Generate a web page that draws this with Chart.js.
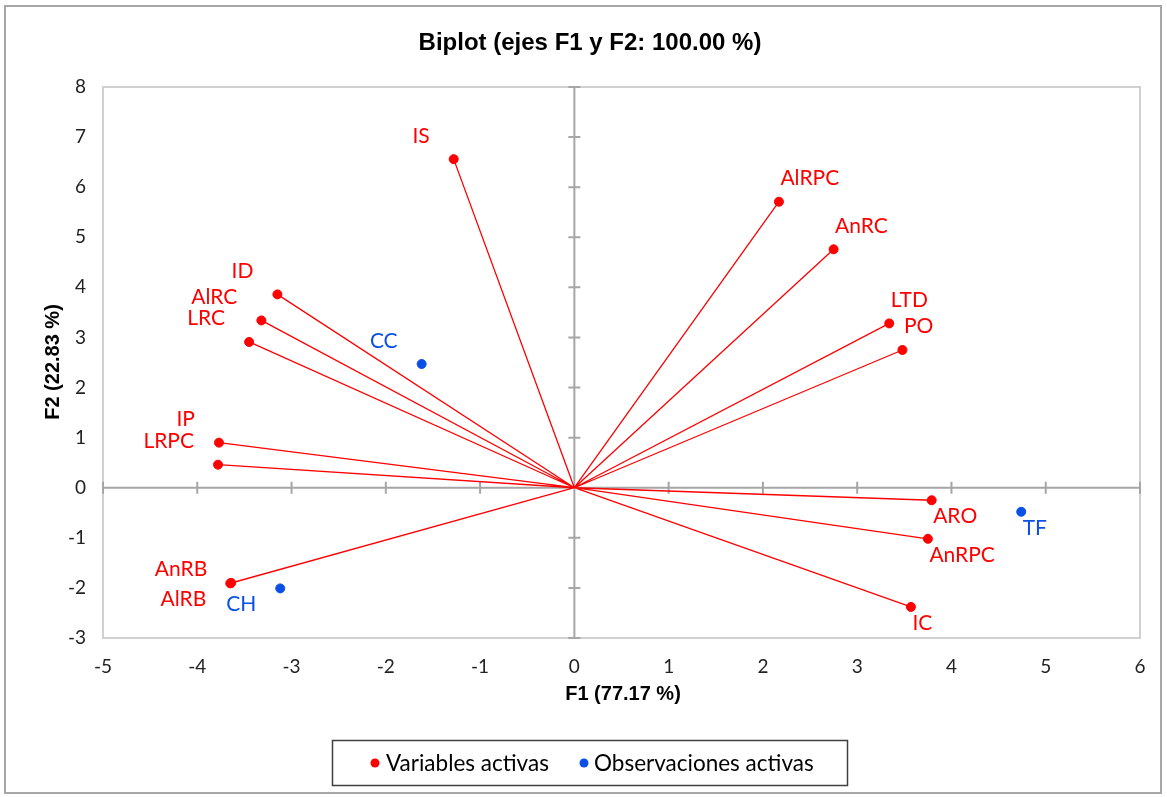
<!DOCTYPE html>
<html>
<head>
<meta charset="utf-8">
<title>Biplot (ejes F1 y F2)</title>
<script src="https://cdn.jsdelivr.net/npm/chart.js@4.4.1/dist/chart.umd.min.js"></script>
<style>
  body { margin: 0; background: #fff; }
</style>
</head>
<body>
<canvas id="biplot" width="1167" height="797"></canvas>
<script>
// variables activas (puntos rojos + rayos desde el origen)
var varNombres = ['IS', 'AlRPC', 'AnRC', 'LTD', 'PO', 'ID', 'AlRC', 'LRC', 'IP', 'LRPC', 'AlRB', 'AnRB', 'ARO', 'AnRPC', 'IC'];
var varF1 = [-1.28, 2.17, 2.75, 3.34, 3.48, -3.15, -3.32, -3.45, -3.77, -3.78, -3.65, -3.64, 3.79, 3.75, 3.57];
var varF2 = [6.56, 5.71, 4.76, 3.28, 2.75, 3.86, 3.34, 2.91, 0.90, 0.46, -1.91, -1.90, -0.25, -1.02, -2.38];

// observaciones activas (puntos azules)
var obsNombres = ['CC', 'TF', 'CH'];
var obsF1 = [-1.62, 4.74, -3.12];
var obsF2 = [2.47, -0.48, -2.01];

// marcas de los ejes
var ticksF1 = [-5, -4, -3, -2, -1, 0, 1, 2, 3, 4, 5, 6];
var ticksF2 = [-3, -2, -1, 0, 1, 2, 3, 4, 5, 6, 7, 8];

var ROJO = '#ff0000';
var AZUL = '#0a50e6';
var fuenteTexto = 'Lato';

var puntosVar = varF1.map(function (x, i) { return { x: x, y: varF2[i] }; });
var puntosObs = obsF1.map(function (x, i) { return { x: x, y: obsF2[i] }; });
// origen -> variable -> origen -> variable ...
var rayos = [];
puntosVar.forEach(function (p) {
    rayos.push({ x: 0, y: 0 });
    rayos.push(p);
});
rayos.push({ x: 0, y: 0 });

var cajas = [];
function choca(c) {
    for (var i = 0; i < cajas.length; i++) {
        var b = cajas[i];
        if (c.x < b.x + b.w && c.x + c.w > b.x && c.y < b.y + b.h && c.y + c.h > b.y) return true;
    }
    return false;
}

function etiqueta(ctx, texto, px, py, vx, vy) {
    var w = ctx.measureText(texto).width;
    var x0 = vx < 0 ? px - 24 - w : px + 1.5;
    var cy = vy > 0 ? py - 24 : py + 15.5;
    var caja = { x: x0, y: cy - 8, w: w, h: 16 };
    if (choca(caja)) {
        cy = vy > 0 ? py + 15.5 : py - 14;
        caja.y = cy - 8;
    }
    cajas.push(caja);
    ctx.fillText(texto, x0, cy + 7.5);
}

var decoracion = {
    id: 'decoracion',
    beforeDraw: function (chart) {
        var ctx = chart.ctx;
        ctx.save();
        ctx.fillStyle = '#fff';
        ctx.fillRect(0, 0, chart.width, chart.height);
        ctx.strokeStyle = '#a6a6a6';
        ctx.lineWidth = 2;
        ctx.strokeRect(5, 6, 1156, 787);
        ctx.restore();
    },
    beforeDatasetsDraw: function (chart) {
        var ctx = chart.ctx, a = chart.chartArea;
        var sx = chart.scales.x, sy = chart.scales.y;
        ctx.save();
        ctx.strokeStyle = '#d0d0d0';
        ctx.lineWidth = 2;
        ctx.strokeRect(a.left, a.top, a.right - a.left, a.bottom - a.top);

        var x0 = sx.getPixelForValue(0), y0 = sy.getPixelForValue(0);
        ctx.strokeStyle = '#a6a6a6';
        ctx.lineWidth = 2;
        ctx.beginPath();
        ctx.moveTo(a.left, y0); ctx.lineTo(a.right, y0);
        ctx.moveTo(x0, a.top); ctx.lineTo(x0, a.bottom);
        ticksF1.forEach(function (t) {
            if (t === 0) return;
            var px = sx.getPixelForValue(t);
            ctx.moveTo(px, y0 - 6); ctx.lineTo(px, y0 + 6);
        });
        ticksF2.forEach(function (t) {
            if (t === 0) return;
            var py = sy.getPixelForValue(t);
            ctx.moveTo(x0 - 6, py); ctx.lineTo(x0 + 6, py);
        });
        ctx.stroke();
        ctx.restore();
    },
    afterDatasetsDraw: function (chart) {
        var ctx = chart.ctx;
        cajas = [];
        ctx.save();
        ctx.font = '21px ' + fuenteTexto;
        ctx.textAlign = 'left';
        ctx.textBaseline = 'alphabetic';
        var mv = chart.getDatasetMeta(0).data;
        ctx.fillStyle = ROJO;
        varNombres.forEach(function (n, i) {
            etiqueta(ctx, n, mv[i].x, mv[i].y, varF1[i], varF2[i]);
        });
        var mo = chart.getDatasetMeta(1).data;
        ctx.fillStyle = AZUL;
        obsNombres.forEach(function (n, i) {
            etiqueta(ctx, n, mo[i].x, mo[i].y, obsF1[i], obsF2[i]);
        });
        ctx.restore();
    },
    afterDraw: function (chart) {
        var ctx = chart.ctx;
        ctx.save();
        ctx.fillStyle = '#000';
        ctx.textAlign = 'center';
        ctx.textBaseline = 'alphabetic';
        ctx.font = 'bold 24px "Liberation Sans"';
        ctx.fillText('Biplot (ejes F1 y F2: 100.00 %)', 590, 50);

        ctx.font = 'bold 20px "Liberation Sans"';
        ctx.fillText('F1 (77.17 %)', 623, 700);
        ctx.save();
        ctx.translate(52, 362);
        ctx.rotate(-Math.PI / 2);
        ctx.fillText('F2 (22.83 %)', 0, 7);
        ctx.restore();

        // leyenda
        ctx.strokeStyle = '#404040';
        ctx.lineWidth = 1.5;
        ctx.strokeRect(332.5, 740.5, 515, 45);
        ctx.fillStyle = ROJO;
        ctx.beginPath(); ctx.arc(375, 763, 4.5, 0, Math.PI * 2); ctx.fill();
        ctx.fillStyle = AZUL;
        ctx.beginPath(); ctx.arc(584, 763, 4.5, 0, Math.PI * 2); ctx.fill();
        ctx.fillStyle = '#000';
        ctx.textAlign = 'left';
        ctx.font = '22.5px ' + fuenteTexto;
        ctx.fillText('Variables activas', 386, 771);
        ctx.fillText('Observaciones activas', 594, 771);
        ctx.restore();
    }
};

var ctx = document.getElementById('biplot').getContext('2d');
var biplot = new Chart(ctx, {
    type: 'scatter',
    data: {
        datasets: [{
            label: 'Variables activas',
            data: puntosVar,
            backgroundColor: ROJO,
            borderColor: ROJO,
            pointRadius: 4.5,
            pointHoverRadius: 4.5
        }, {
            label: 'Observaciones activas',
            data: puntosObs,
            backgroundColor: AZUL,
            borderColor: AZUL,
            pointRadius: 4.5,
            pointHoverRadius: 4.5
        }, {
            label: 'rayos',
            data: rayos,
            showLine: true,
            borderColor: ROJO,
            borderWidth: 1.3,
            borderJoinStyle: 'round',
            pointRadius: 0,
            pointHoverRadius: 0
        }]
    },
    options: {
        responsive: false,
        animation: false,
        devicePixelRatio: 1,
        layout: { padding: { top: 87, right: 27, left: 0, bottom: 0 } },
        plugins: {
            legend: { display: false },
            title: { display: false },
            tooltip: { enabled: false }
        },
        scales: {
            x: {
                type: 'linear',
                min: ticksF1[0],
                max: ticksF1[ticksF1.length - 1],
                ticks: { stepSize: 1, padding: 17, color: '#222', font: { family: fuenteTexto, size: 19 } },
                grid: { display: false, drawTicks: false },
                border: { display: false },
                afterFit: function (s) { s.height = 159; }
            },
            y: {
                type: 'linear',
                min: ticksF2[0],
                max: ticksF2[ticksF2.length - 1],
                ticks: { stepSize: 1, padding: 17, color: '#222', font: { family: fuenteTexto, size: 19 } },
                grid: { display: false, drawTicks: false },
                border: { display: false },
                afterFit: function (s) { s.width = 103; }
            }
        }
    },
    plugins: [decoracion]
});
</script>
</body>
</html>
